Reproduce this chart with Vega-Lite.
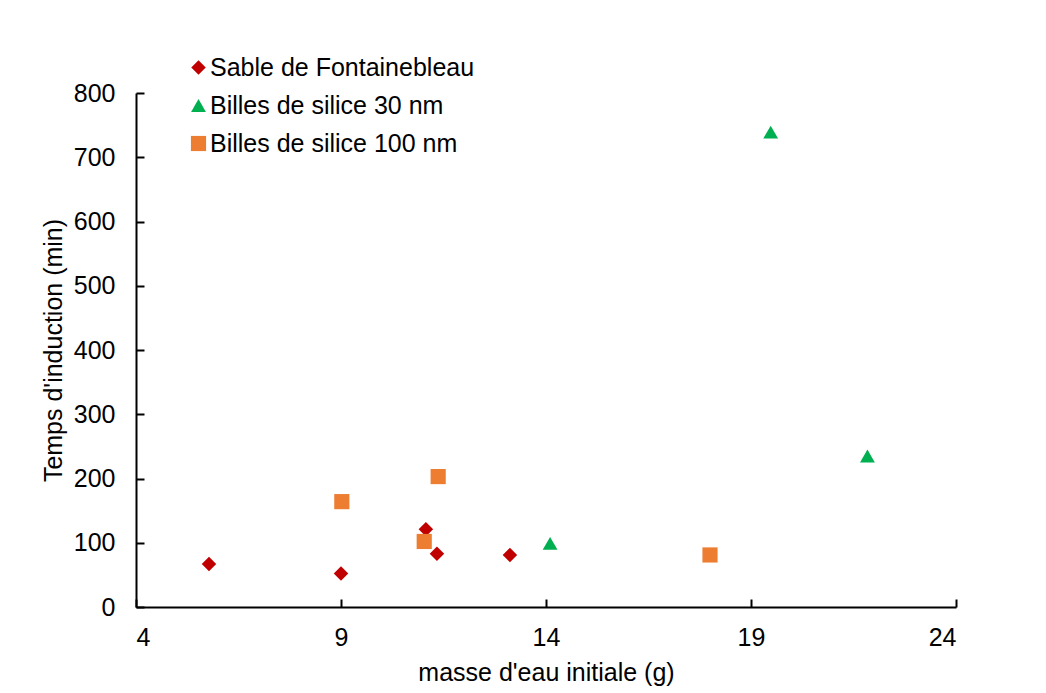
{
  "$schema": "https://vega.github.io/schema/vega-lite/v6.json",
  "width": 820,
  "height": 514,
  "autosize": {"type": "none"},
  "padding": {"left": 136, "top": 93, "right": 90, "bottom": 86},
  "background": "white",
  "config": {
    "font": "Liberation Sans",
    "view": {"stroke": null},
    "axis": {
      "grid": false,
      "domainColor": "black",
      "domainWidth": 2,
      "tickColor": "black",
      "tickWidth": 2,
      "tickSize": -8,
      "labelFont": "Liberation Sans",
      "labelFontSize": 25,
      "labelColor": "black",
      "titleFont": "Liberation Sans",
      "titleFontSize": 25,
      "titleFontWeight": "normal",
      "titleColor": "black"
    }
  },
  "data": {
    "values": [
      {"serie": "Sable de Fontainebleau", "masse": 5.78, "temps": 67},
      {"serie": "Sable de Fontainebleau", "masse": 9.0, "temps": 52},
      {"serie": "Sable de Fontainebleau", "masse": 11.07, "temps": 121},
      {"serie": "Sable de Fontainebleau", "masse": 11.34, "temps": 83},
      {"serie": "Sable de Fontainebleau", "masse": 13.12, "temps": 81},
      {"serie": "Billes de silice 30 nm", "masse": 14.1, "temps": 99},
      {"serie": "Billes de silice 30 nm", "masse": 19.48, "temps": 739},
      {"serie": "Billes de silice 30 nm", "masse": 21.84, "temps": 235},
      {"serie": "Billes de silice 100 nm", "masse": 9.02, "temps": 164},
      {"serie": "Billes de silice 100 nm", "masse": 11.37, "temps": 203},
      {"serie": "Billes de silice 100 nm", "masse": 11.03, "temps": 102},
      {"serie": "Billes de silice 100 nm", "masse": 18.0, "temps": 81}
    ]
  },
  "mark": {"type": "point", "filled": true, "opacity": 1, "size": 210},
  "encoding": {
    "x": {
      "field": "masse",
      "type": "quantitative",
      "scale": {"domain": [4, 24], "nice": false, "zero": false},
      "axis": {"values": [4, 9, 14, 19, 24], "title": "masse d'eau initiale (g)", "labelPadding": 26, "titlePadding": 10}
    },
    "y": {
      "field": "temps",
      "type": "quantitative",
      "scale": {"domain": [0, 800], "nice": false},
      "axis": {"values": [0, 100, 200, 300, 400, 500, 600, 700, 800], "title": "Temps d'induction (min)", "labelPadding": 29, "titlePadding": 7}
    },
    "color": {
      "field": "serie",
      "type": "nominal",
      "scale": {
        "domain": ["Sable de Fontainebleau", "Billes de silice 30 nm", "Billes de silice 100 nm"],
        "range": ["#C00000", "#00B050", "#ED7D31"]
      },
      "legend": {
        "title": null,
        "orient": "none",
        "legendX": 50,
        "legendY": -38,
        "labelFontSize": 25,
        "labelFont": "Liberation Sans",
        "labelColor": "black",
        "labelLimit": 0,
        "symbolSize": 200,
        "rowPadding": 12,
        "labelOffset": -1,
        "symbolOpacity": 1
      }
    },
    "shape": {
      "field": "serie",
      "type": "nominal",
      "scale": {
        "domain": ["Sable de Fontainebleau", "Billes de silice 30 nm", "Billes de silice 100 nm"],
        "range": ["diamond", "triangle-up", "square"]
      }
    },
    "size": {
      "field": "serie",
      "type": "nominal",
      "scale": {
        "domain": ["Sable de Fontainebleau", "Billes de silice 30 nm", "Billes de silice 100 nm"],
        "range": [210, 230, 270]
      },
      "legend": null
    }
  }
}
